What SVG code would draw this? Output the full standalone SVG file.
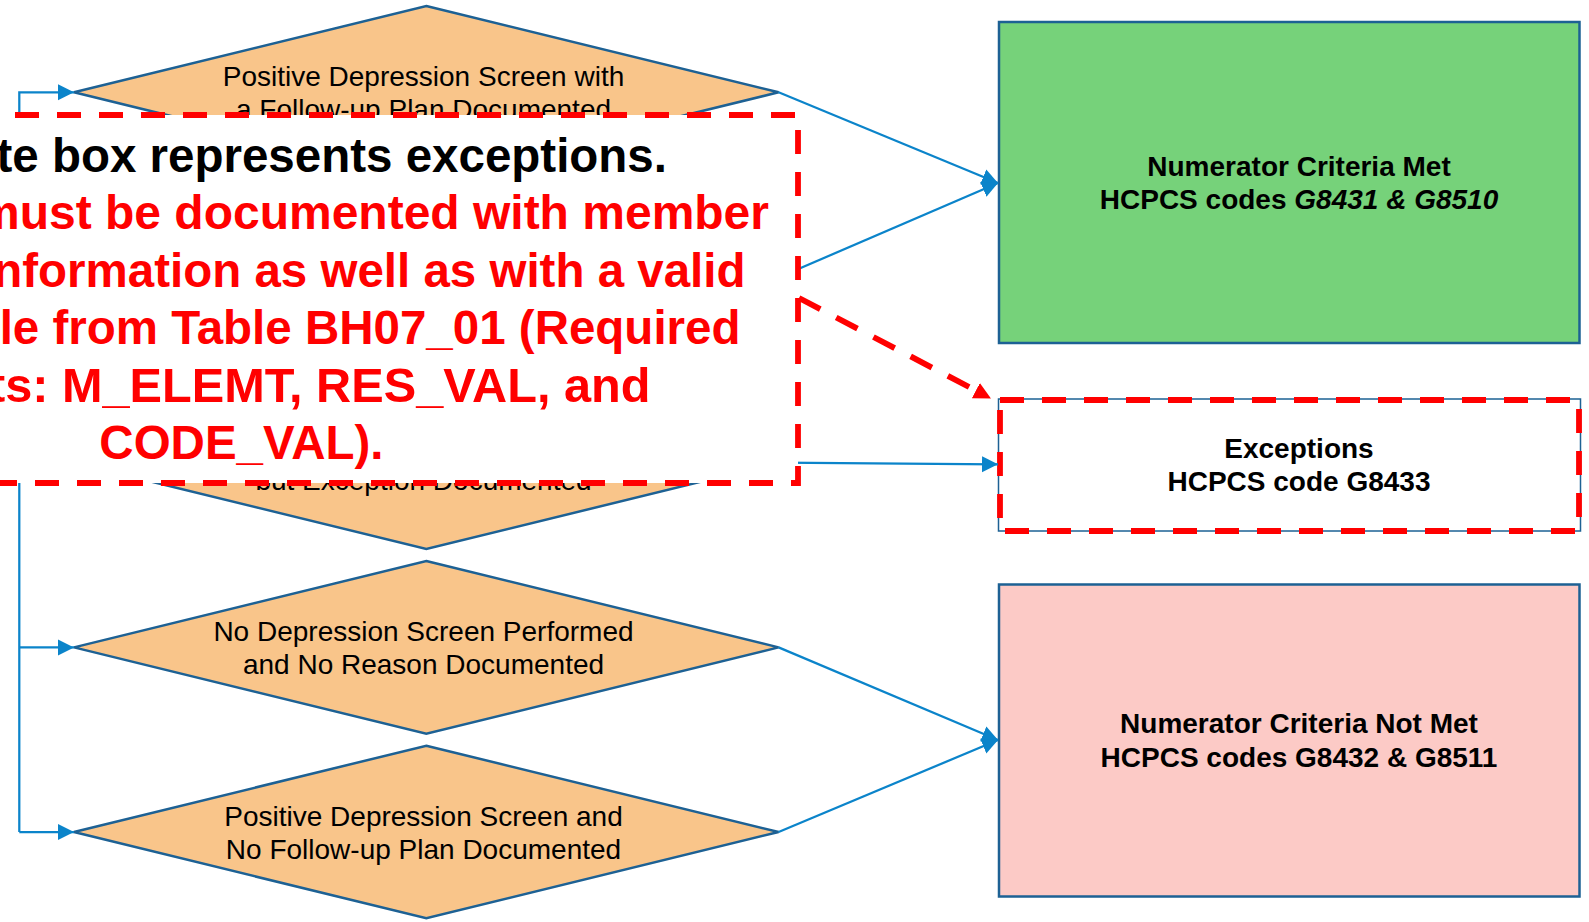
<svg xmlns="http://www.w3.org/2000/svg" width="1589" height="922" viewBox="0 0 1589 922">
  <style>
    .diamond { fill: #F9C58A; stroke: #1D6194; stroke-width: 2.5; stroke-linejoin: miter; }
    .dtext { font-family: "Liberation Sans", Arial, sans-serif; font-size: 28px; fill: #000; text-anchor: middle; }
    .btext { font-family: "Liberation Sans", Arial, sans-serif; font-size: 28px; font-weight: bold; fill: #000; text-anchor: middle; }
    .box { stroke: #1D6194; stroke-width: 2.5; }
    .conn { fill: none; stroke: #0B84CA; stroke-width: 2.25; }
    .reddash { fill: none; stroke: #FF0000; stroke-width: 5.8; stroke-dasharray: 24 18; }
    .note { font-family: "Liberation Sans", Arial, sans-serif; font-size: 47.5px; font-weight: bold; }
    .end { text-anchor: end; }
  </style>
  <defs>
    <marker id="arrow" markerUnits="userSpaceOnUse" viewBox="0 0 17 17" markerWidth="17" markerHeight="17" refX="16" refY="8.5" orient="auto">
      <path d="M0,0.5 L16,8.5 L0,16.5 Z" fill="#0B84CA"/>
    </marker>
    <marker id="redArrow" markerUnits="userSpaceOnUse" viewBox="0 0 18 18" markerWidth="18" markerHeight="18" refX="0" refY="9" orient="auto">
      <path d="M0,0.5 L17,9 L0,17.5 Z" fill="#FF0000"/>
    </marker>
  </defs>

  <rect width="1589" height="922" fill="#FFFFFF"/>

  <!-- decision diamonds -->
  <g id="d-positive-with-plan">
    <polygon class="diamond" points="426.3,6 778.6,92.3 426.3,178.6 74,92.3"/>
    <text class="dtext" x="423.5" y="86">Positive Depression Screen with</text>
    <text class="dtext" x="423.5" y="119.4">a Follow-up Plan Documented</text>
  </g>
  <g id="d-exception">
    <polygon class="diamond" points="426.3,376.4 778.6,462.7 426.3,549 74,462.7"/>
    <text class="dtext" x="423.5" y="489.7">but Exception Documented</text>
  </g>
  <g id="d-no-screen">
    <polygon class="diamond" points="426.3,561 778.6,647.4 426.3,733.7 74,647.4"/>
    <text class="dtext" x="423.5" y="641">No Depression Screen Performed</text>
    <text class="dtext" x="423.5" y="674.4">and No Reason Documented</text>
  </g>
  <g id="d-positive-no-plan">
    <polygon class="diamond" points="426.3,745.7 778.6,832 426.3,918.3 74,832"/>
    <text class="dtext" x="423.5" y="825.7">Positive Depression Screen and</text>
    <text class="dtext" x="423.5" y="859">No Follow-up Plan Documented</text>
  </g>

  <!-- outcome boxes -->
  <g id="numerator-met">
    <rect class="box" x="999" y="22" width="580.5" height="321" fill="#76D27A"/>
    <text class="btext" x="1299" y="175.7">Numerator Criteria Met</text>
    <text class="btext" x="1299" y="209.3"><tspan>HCPCS codes </tspan><tspan font-style="italic">G8431 &amp; G8510</tspan></text>
  </g>
  <g id="exceptions">
    <rect x="998.5" y="399" width="582" height="132" fill="#FFFFFF" stroke="#1D6194" stroke-width="1.5"/>
    <rect class="reddash" x="1000" y="400" width="579" height="131"/>
    <text class="btext" x="1299" y="458.3">Exceptions</text>
    <text class="btext" x="1299" y="491">HCPCS code G8433</text>
  </g>
  <g id="numerator-not-met">
    <rect class="box" x="999" y="584.5" width="580.5" height="312" fill="#FCCAC6"/>
    <text class="btext" x="1299" y="733.3">Numerator Criteria Not Met</text>
    <text class="btext" x="1299" y="767.3">HCPCS codes G8432 &amp; G8511</text>
  </g>

  <!-- flow connectors -->
  <g id="connectors">
    <path class="conn" d="M19.3,832 V92.3 H74" marker-end="url(#arrow)"/>
    <path class="conn" d="M19.3,647.4 H74" marker-end="url(#arrow)"/>
    <path class="conn" d="M19.3,832 H74" marker-end="url(#arrow)"/>
    <path class="conn" d="M778.6,92.3 L998,183" marker-end="url(#arrow)"/>
    <path class="conn" d="M778.6,277.5 L998,183" marker-end="url(#arrow)"/>
    <path class="conn" d="M778.6,462.7 L998,464.3" marker-end="url(#arrow)"/>
    <path class="conn" d="M778.6,647.4 L998,740" marker-end="url(#arrow)"/>
    <path class="conn" d="M778.6,832 L998,740" marker-end="url(#arrow)"/>
  </g>

  <!-- exceptions note (runs past the left edge of the page) -->
  <g id="exceptions-note">
    <path d="M-27,115 H798 V483 H-27 Z" fill="#FFFFFF"/>
    <path class="reddash" d="M-27,115 H798 V483 H-27"/>
    <text class="note end" fill="#000000" x="667" y="172">te box represents exceptions.</text>
    <text class="note" fill="#FF0000" x="-23" y="229.4" textLength="792" lengthAdjust="spacingAndGlyphs">must be documented with member</text>
    <text class="note end" fill="#FF0000" x="745.5" y="286.8">nformation as well as with a valid</text>
    <text class="note end" fill="#FF0000" x="740.5" y="344.2">le from Table BH07_01 (Required</text>
    <text class="note" fill="#FF0000" x="-11" y="401.6" textLength="661.5" lengthAdjust="spacingAndGlyphs">ts: M_ELEMT, RES_VAL, and</text>
    <text class="note end" fill="#FF0000" x="383.5" y="459">CODE_VAL).</text>
  </g>

  <!-- callout pointer from the note to the exceptions box -->
  <g id="callout-connector">
    <path class="reddash" d="M799,298 L975.9,390.6" marker-end="url(#redArrow)"/>
  </g>
</svg>
